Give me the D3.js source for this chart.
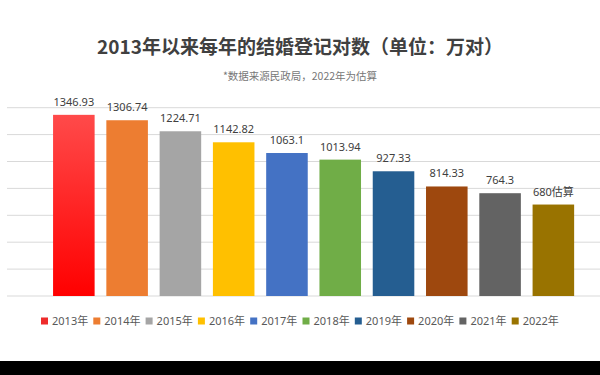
<!DOCTYPE html>
<html lang="zh">
<head>
  <meta charset="UTF-8">
  <title>2013年以来每年的结婚登记对数</title>
  <script src="https://d3js.org/d3.v7.min.js"></script>
  <style>
    body { margin: 0; background: #fff; }
    svg { display: block; font-family: "Noto Sans", "Noto Sans CJK SC", sans-serif; }
  </style>
</head>
<body>
  <svg id="chart" width="600" height="375"></svg>
  <script>
    // data
    const years = ['2013年', '2014年', '2015年', '2016年', '2017年', '2018年', '2019年', '2020年', '2021年', '2022年'];
    const values = [1346.93, 1306.74, 1224.71, 1142.82, 1063.1, 1013.94, 927.33, 814.33, 764.3, 680];
    const labels = ['1346.93', '1306.74', '1224.71', '1142.82', '1063.1', '1013.94', '927.33', '814.33', '764.3', '680估算'];
    const colors = ['url(#redGrad)', '#ED7D31', '#A5A5A5', '#FFC000', '#4472C4', '#70AD47', '#255E91', '#9E480E', '#636363', '#997300'];
    const legendColors = ['#EE2B2B', '#ED7D31', '#A5A5A5', '#FFC000', '#4472C4', '#70AD47', '#255E91', '#9E480E', '#636363', '#997300'];
    const yTicks = [0, 200, 400, 600, 800, 1000, 1200, 1400];

    const svg = d3.select('#chart');

    const defs = svg.append('defs');
    const grad = defs.append('linearGradient')
      .attr('id', 'redGrad').attr('x1', 0).attr('y1', 0).attr('x2', 0).attr('y2', 1);
    grad.append('stop').attr('offset', '0%').attr('stop-color', '#FF4A4A');
    grad.append('stop').attr('offset', '100%').attr('stop-color', '#FF0000');

    const x = d3.scaleBand().domain(years).range([47.2, 580]).paddingInner(0.22).paddingOuter(0.11);
    const y = d3.scaleLinear().domain([0, 1400]).range([296, 107.7]);

    // gridlines
    svg.append('g')
      .selectAll('line')
      .data(yTicks)
      .enter().append('line')
      .attr('x1', 7).attr('x2', 600)
      .attr('y1', d => y(d)).attr('y2', d => y(d))
      .attr('stroke', '#d9d9d9').attr('stroke-width', 1);

    // bars
    svg.append('g')
      .selectAll('rect')
      .data(values)
      .enter().append('rect')
      .attr('x', (d, i) => x(years[i]))
      .attr('width', x.bandwidth())
      .attr('y', d => y(d))
      .attr('height', d => y(0) - y(d))
      .attr('fill', (d, i) => colors[i]);

    // value labels
    svg.append('g')
      .selectAll('text')
      .data(values)
      .enter().append('text')
      .attr('x', (d, i) => x(years[i]) + x.bandwidth() / 2)
      .attr('y', d => y(d) - 9)
      .attr('text-anchor', 'middle')
      .attr('font-size', 11)
      .attr('fill', '#404040')
      .text((d, i) => labels[i]);

    // title
    svg.append('text')
      .attr('x', 300).attr('y', 54)
      .attr('text-anchor', 'middle')
      .attr('font-size', 19)
      .attr('font-weight', 'bold')
      .attr('font-family', '"Noto Sans CJK SC", sans-serif')
      .attr('fill', '#404040')
      .text('2013年以来每年的结婚登记对数（单位：万对）');

    svg.append('text')
      .attr('x', 300).attr('y', 80)
      .attr('text-anchor', 'middle')
      .attr('font-size', 10.5)
      .attr('font-family', '"Noto Sans CJK SC", sans-serif')
      .attr('fill', '#777')
      .text('*数据来源民政局，2022年为估算');

    // legend
    const legend = svg.append('g')
      .selectAll('g')
      .data(years)
      .enter().append('g')
      .attr('transform', (d, i) => `translate(${41 + i * 52.3},321)`);
    legend.append('rect')
      .attr('x', 0).attr('y', -3.5)
      .attr('width', 7).attr('height', 7)
      .attr('fill', (d, i) => legendColors[i]);
    legend.append('text')
      .attr('x', 11).attr('y', 4)
      .attr('font-size', 11)
      .attr('fill', '#595959')
      .text(d => d);

    // black strip at the bottom of the screenshot
    svg.append('rect')
      .attr('x', 0).attr('y', 361)
      .attr('width', 600).attr('height', 14)
      .attr('fill', '#000');
  </script>
</body>
</html>
